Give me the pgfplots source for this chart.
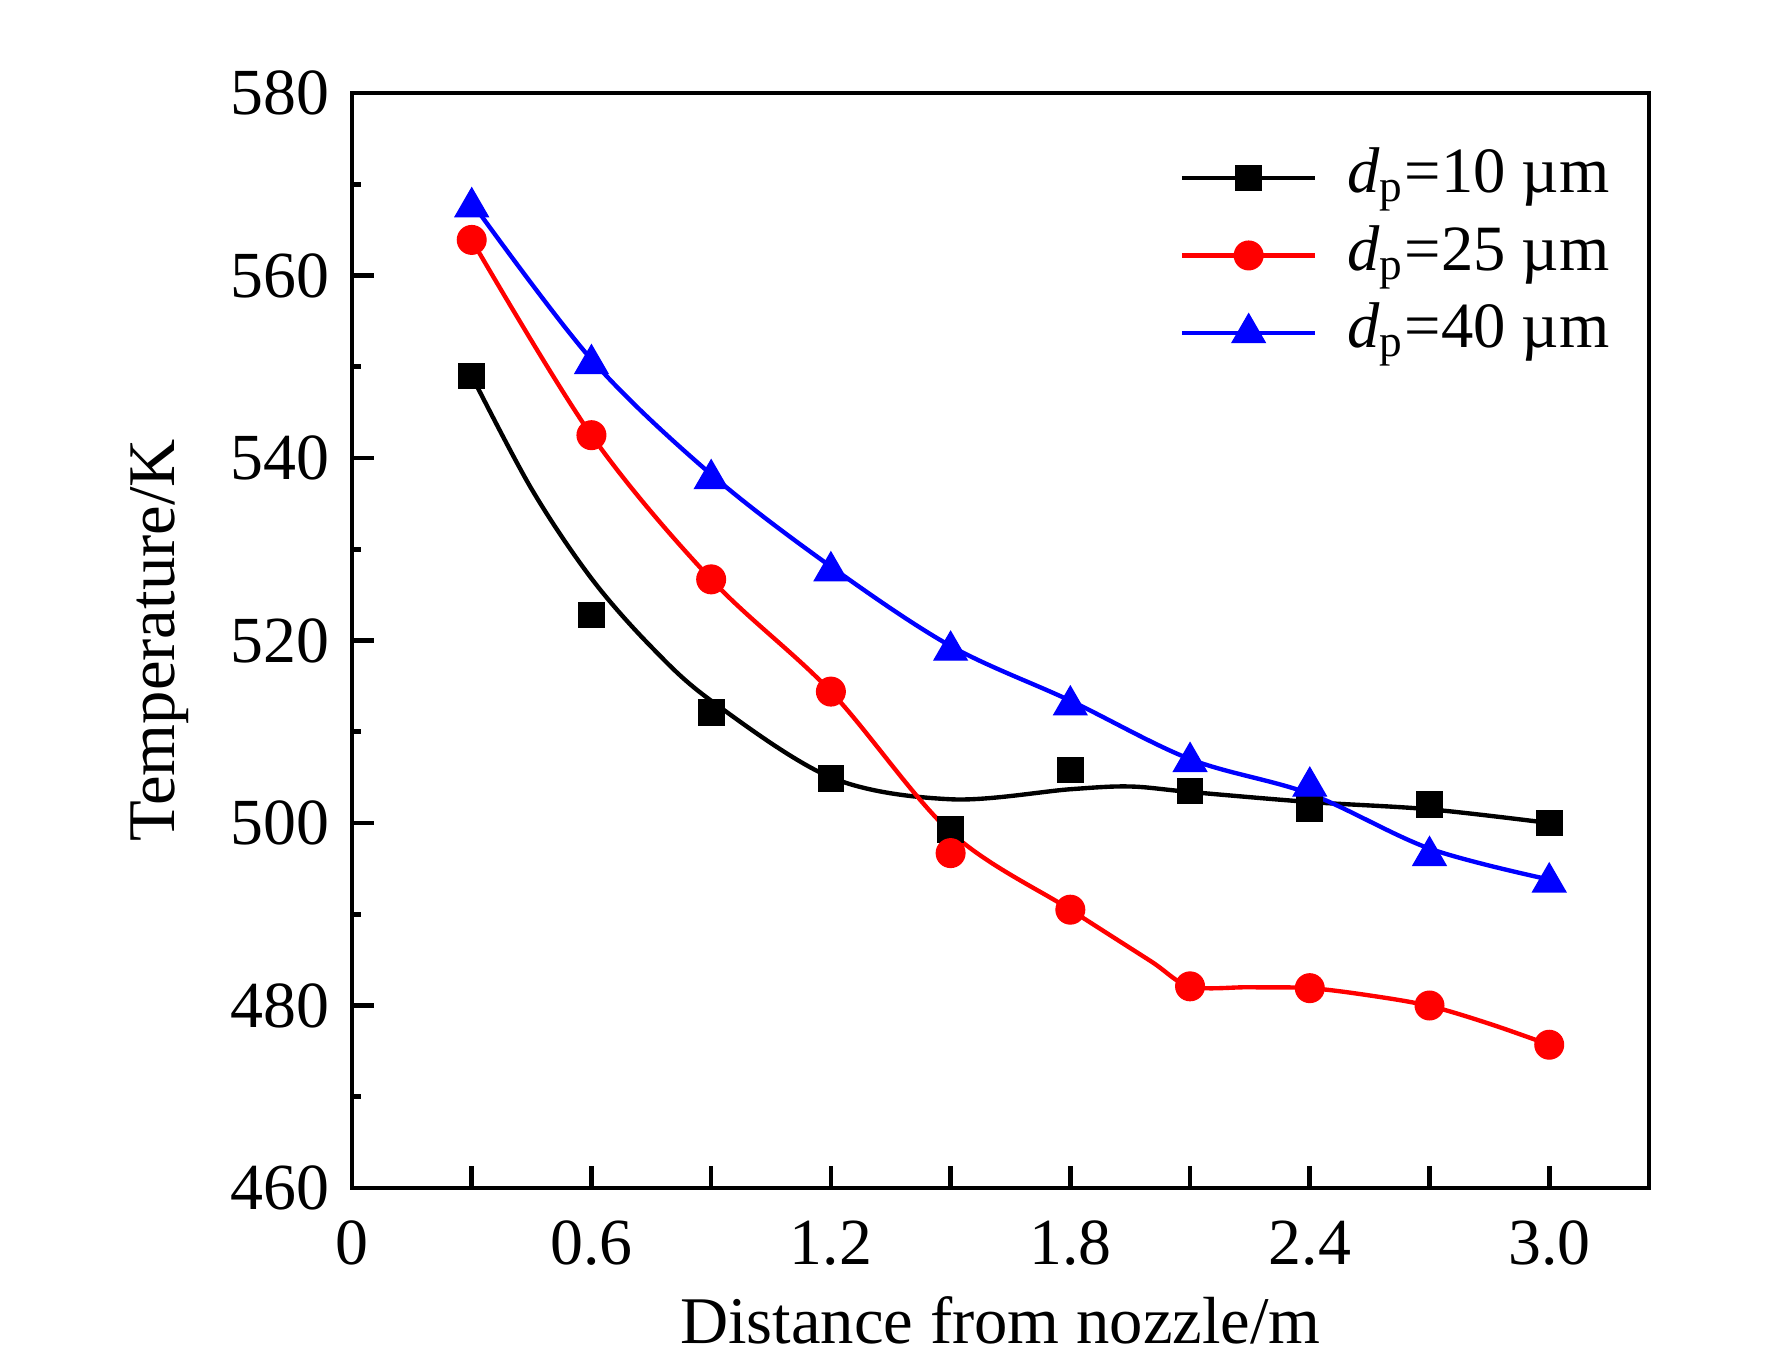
\documentclass[border=0pt]{standalone}
\usepackage{fontspec}
\setmainfont{Liberation Serif}
\usepackage{pgfplots}
\pgfplotsset{compat=1.18}
\newcommand{\fs}{\fontsize{15.8}{18}\selectfont}
\newcommand{\fl}{\fontsize{16.0}{19}\selectfont}
\newcommand{\fg}{\fontsize{15.5}{18}\selectfont}
\begin{document}
\fs
\begin{tikzpicture}
\begin{axis}[
  name=ax,
  scale only axis,
  width=311.28pt, height=262.8pt,
  xmin=0, xmax=3.25, ymin=460, ymax=580,
  axis line style={line width=1.15pt},
  every tick/.style={black, line width=1.1pt},
  tick align=inside,
  tick pos=left,
  xtick={0,0.3,0.6,0.9,1.2,1.5,1.8,2.1,2.4,2.7,3.0},
  xticklabels={0,,0.6,,1.2,,1.8,,2.4,,3.0},
  xticklabel style={yshift=-2.4pt},
  ytick={460,480,500,520,540,560,580},
  minor ytick={470,490,510,530,550,570},
  major tick length=5.2pt,
  minor tick length=2.2pt,
  /pgf/number format/assume math mode=true,
  ticklabel style={font=\fs},
  label style={font=\fl},
  xlabel={Distance from nozzle/m},
  ylabel={Temperature/K},
  xlabel style={at={(axis description cs:0.5,-0.1416)}, anchor=base},
  ylabel style={at={(axis description cs:-0.1372,0.5)}, anchor=base},
  legend cell align=left,
  legend style={draw=none, fill=none, at={(axis description cs:0.6376,0.9517)}, anchor=north west,
    inner sep=0pt, column sep=7.2pt, row sep=3.6pt,
    nodes={inner sep=0pt, text height=11pt, text depth=4pt, font=\fg}},
  legend image code/.code={\draw[mark repeat=2,mark phase=2,#1] plot coordinates {(0pt,0pt) (16pt,0pt) (32pt,0pt)};},
]
% black: fitted line and data
\addplot[black, line width=1.05pt, smooth, tension=0.55, forget plot] coordinates {
 (0.3,549.0) (0.45,536.6) (0.6,526.8) (0.75,519.3) (0.9,513.4) (1.2,505.0)
 (1.5,502.6) (1.8,503.7) (1.95,504.0) (2.1,503.4)
 (2.4,502.3) (2.7,501.5) (3.0,500.0)};
\addplot[black, only marks, mark=square*, mark size=3.05pt, mark options={line width=0.3pt}, forget plot] coordinates {
 (0.3,549.0) (0.6,522.8) (0.9,512.1) (1.2,504.9) (1.5,499.3) (1.8,505.8) (2.1,503.5) (2.4,501.6) (2.7,502.0) (3.0,500.0)};
% red
\addplot[red, line width=1.05pt, smooth, tension=0.55, forget plot] coordinates {
 (0.3,563.9) (0.6,542.5) (0.9,526.7) (1.2,514.4) (1.5,499.0) (1.8,490.5) (2.0,484.9) (2.1,482.1)
 (2.25,482.0) (2.4,481.9) (2.55,481.1) (2.7,479.95) (2.85,478.0) (3.0,475.7)};
\addplot[red, only marks, mark=*, mark size=3.45pt, mark options={line width=0.3pt}, forget plot] coordinates {
 (0.3,563.9) (0.6,542.5) (0.9,526.7) (1.2,514.4) (1.5,496.7) (1.8,490.5) (2.1,482.1) (2.4,481.9) (2.7,480.0) (3.0,475.7)};
% blue
\addplot[blue, line width=1.05pt, smooth, tension=0.55, forget plot] coordinates {
 (0.3,568.0) (0.6,550.8) (0.9,538.2) (1.2,528.1) (1.5,519.4) (1.8,513.4) (2.1,507.0) (2.4,503.2) (2.7,497.2) (3.0,493.8)};
\addplot[blue, only marks, mark=triangle*, mark size=4.6pt, mark options={line width=0.3pt}, forget plot] coordinates {
 (0.3,567.5) (0.6,550.3) (0.9,537.7) (1.2,527.6) (1.5,518.9) (1.8,512.9) (2.1,506.7) (2.4,504.0) (2.7,496.4) (3.0,493.5)};
\addlegendimage{black, line width=1.05pt, mark=square*, mark size=3.05pt, mark options={line width=0.3pt}}
\addlegendentry{\textit{d}\textsubscript{p}=10 µm}
\addlegendimage{red, line width=1.05pt, mark=*, mark size=3.45pt, mark options={line width=0.3pt}}
\addlegendentry{\textit{d}\textsubscript{p}=25 µm}
\addlegendimage{blue, line width=1.05pt, mark=triangle*, mark size=4.6pt, mark options={line width=0.3pt}}
\addlegendentry{\textit{d}\textsubscript{p}=40 µm}
\end{axis}
\path ([xshift=-84.48pt,yshift=-42.24pt]ax.south west) rectangle ([xshift=29.52pt,yshift=22.32pt]ax.north east);
\end{tikzpicture}
\end{document}
